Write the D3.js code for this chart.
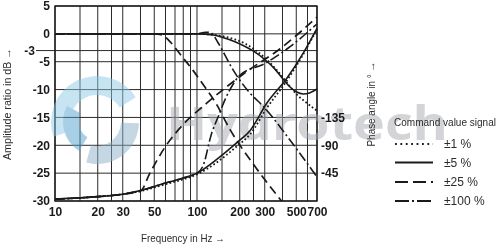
<!DOCTYPE html>
<html><head><meta charset="utf-8">
<script src="https://cdn.jsdelivr.net/npm/d3@7"></script>
<style>html,body{margin:0;padding:0;background:#fff;} svg{display:block;}</style>
</head><body>
<svg id="chart" width="500" height="248"></svg>
<script>
// ---------- data ----------
const freqTicks = [10, 20, 30, 50, 100, 200, 300, 500, 700];
const freqGrid = [10, 15, 20, 25, 30, 40, 50, 60, 70, 80, 90, 100, 150, 200, 250, 300, 400, 500, 600, 700];
const ampTicks = [5, 0, -5, -10, -15, -20, -25, -30];
const ampExtraTick = -3;
const phaseTicks = [-135, -90, -45];
const legendLabels = ["±1 %", "±5 %", "±25 %", "±100 %"];

// amplitude ratio (dB) vs frequency (Hz)
const magDotted  = [[10,0],[50,0],[100,0],[120,-0.1],[150,-0.4],[185,-1.0],[220,-1.8],[250,-2.7],[300,-4.3],[350,-6.0],[400,-7.7],[450,-9.4],[500,-10.8],[600,-12.5],[700,-13.8]];
const magSolid   = [[10,0],[50,0],[100,0],[130,-0.2],[150,-0.6],[185,-1.4],[220,-2.3],[250,-3.1],[300,-4.6],[350,-6.2],[400,-8.0],[450,-9.5],[500,-10.4],[560,-10.8],[620,-10.6],[700,-9.9]];
const magDashed  = [[10,0],[50,0],[57,-0.2],[65,-1.5],[78,-4.0],[94,-6.6],[114,-9.6],[134,-12.2],[171,-17.2],[263,-24.2],[394,-30]];
const magDashDot = [[10,0],[100,0],[115,0.3],[125,0.2],[140,-1.5],[155,-3.5],[175,-6.0],[195,-7.9],[230,-10.3],[300,-13.3],[450,-19.0],[700,-25.7]];

// phase angle (degrees) vs frequency (Hz)
const phaseDotted  = [[10,-3],[20,-7],[30,-11],[40,-16],[60,-27],[80,-35],[100,-43],[137,-62],[190,-88],[237,-108],[310,-150],[428,-194],[560,-237],[700,-278]];
const phaseSolid   = [[10,-3],[20,-7],[30,-11],[40,-17],[60,-29],[80,-37],[100,-45],[137,-67],[190,-94],[237,-114],[310,-158],[428,-198],[560,-239],[700,-279]];
const phaseDashed  = [[10,-3],[20,-7],[30,-11],[40,-16],[46.6,-45],[59.5,-87],[78,-121],[117,-158],[224,-209],[385,-246],[700,-297]];
const phaseDashDot = [[10,-3],[20,-7],[30,-11],[40,-17],[60,-29],[80,-37],[100,-45],[110,-56],[127,-110],[141,-136],[157,-163],[180,-189],[200,-203],[300,-222],[450,-249],[700,-286]];

// ---------- layout ----------
const svg = d3.select("#chart");
const L = 55, R = 317, T = 6, B = 201;
const x = d3.scaleLog().domain([10, 700]).range([L, R]);
const y = d3.scaleLinear().domain([-30, 5]).range([B, T]);
const yp = d3.scaleLinear().domain([0, -315]).range([B, T]);
const ink = "#1a1a1a";
const textFont = "'Liberation Sans', Arial, sans-serif";

// grid
const grid = svg.append("g");
grid.selectAll("line.v").data(freqGrid).join("line")
  .attr("x1", d => x(d)).attr("x2", d => x(d)).attr("y1", T).attr("y2", B)
  .attr("stroke", "#2a2a2a").attr("stroke-width", 1);
grid.selectAll("line.h").data(ampTicks.concat([ampExtraTick])).join("line")
  .attr("x1", L).attr("x2", R).attr("y1", d => y(d)).attr("y2", d => y(d))
  .attr("stroke", "#2a2a2a").attr("stroke-width", 1);
// -3 outer tick
grid.append("line").attr("x1", 36).attr("x2", L).attr("y1", y(ampExtraTick)).attr("y2", y(ampExtraTick))
  .attr("stroke", "#2a2a2a").attr("stroke-width", 1);
// border
svg.append("rect").attr("x", L).attr("y", T).attr("width", R - L).attr("height", B - T)
  .attr("fill", "none").attr("stroke", ink).attr("stroke-width", 1.4);

// watermark
const wm = svg.append("g").attr("opacity", 0.5);
const arc = d3.arc();
wm.append("path").attr("transform", "translate(97,122)")
  .attr("d", arc({innerRadius: 27, outerRadius: 46, startAngle: -1.9, endAngle: 1.0})).attr("fill", "#8ec8e6");
wm.append("path").attr("transform", "translate(97,122)")
  .attr("d", arc({innerRadius: 24, outerRadius: 42, startAngle: 1.6, endAngle: 3.4})).attr("fill", "#8aaec4");
wm.append("path").attr("transform", "translate(97,122)")
  .attr("d", arc({innerRadius: 18, outerRadius: 34, startAngle: 3.7, endAngle: 5.2})).attr("fill", "#4f9fcc");
wm.append("text").attr("x", 166).attr("y", 140).text("Hydrotech")
  .attr("font-family", "'Open Sans', sans-serif").attr("font-weight", 700).attr("font-size", 46)
  .attr("textLength", 282).attr("lengthAdjust", "spacingAndGlyphs").attr("fill", "#a4a9ae");

// curves
const lineMag = d3.line().x(d => x(d[0])).y(d => y(d[1])).curve(d3.curveMonotoneX);
const linePh = d3.line().x(d => x(d[0])).y(d => yp(d[1])).curve(d3.curveMonotoneX);
const styles = [
  {dash: "1.7,2.3", w: 1.8},
  {dash: null, w: 1.6},
  {dash: "9,5", w: 1.7},
  {dash: "10,3,2,3", w: 1.6}
];
const magSeries = [magDotted, magSolid, magDashed, magDashDot];
const phSeries = [phaseDotted, phaseSolid, phaseDashed, phaseDashDot];
const curves = svg.append("g").attr("fill", "none").attr("stroke", ink);
magSeries.forEach((s, i) => {
  curves.append("path").attr("d", lineMag(s)).attr("stroke-width", styles[i].w)
    .attr("stroke-dasharray", styles[i].dash);
});
phSeries.forEach((s, i) => {
  curves.append("path").attr("d", linePh(s)).attr("stroke-width", styles[i].w)
    .attr("stroke-dasharray", styles[i].dash);
});

// axes labels
const xAxis = d3.axisBottom(x).tickValues(freqTicks).tickFormat(d3.format("d")).tickSize(0).tickPadding(0);
const gx = svg.append("g").attr("transform", `translate(0,${B + 6})`).call(xAxis);
gx.select(".domain").remove();
gx.selectAll("text").attr("font-family", textFont).attr("font-weight", 700).attr("font-size", 12)
  .attr("fill", ink).attr("dy", "0.71em");

const yAxis = d3.axisLeft(y).tickValues(ampTicks).tickFormat(d => String(d)).tickSize(0).tickPadding(0);
const gy = svg.append("g").attr("transform", `translate(${L - 5},0)`).call(yAxis);
gy.select(".domain").remove();
gy.selectAll("text").attr("font-family", textFont).attr("font-weight", 700).attr("font-size", 12).attr("fill", ink);
svg.append("text").attr("x", 35).attr("y", y(ampExtraTick)).attr("dy", "0.35em").attr("text-anchor", "end")
  .attr("font-family", textFont).attr("font-weight", 700).attr("font-size", 12).attr("fill", ink).text(String(ampExtraTick));

const pAxis = d3.axisRight(yp).tickValues(phaseTicks).tickFormat(d => String(d)).tickSize(0).tickPadding(0);
const gp = svg.append("g").attr("transform", `translate(${R + 4},0)`).call(pAxis);
gp.select(".domain").remove();
gp.selectAll("text").attr("font-family", textFont).attr("font-weight", 700).attr("font-size", 12).attr("fill", ink);

// titles
const titleColor = "#2b2b2b";
svg.append("text").attr("transform", "translate(11,104) rotate(-90)").attr("text-anchor", "middle")
  .attr("font-family", textFont).attr("font-size", 11).attr("fill", titleColor)
  .attr("textLength", 112).attr("lengthAdjust", "spacingAndGlyphs").text("Amplitude ratio in dB \u2192");
svg.append("text").attr("transform", "translate(375,104) rotate(-90)").attr("text-anchor", "middle")
  .attr("font-family", textFont).attr("font-size", 11).attr("fill", titleColor)
  .attr("textLength", 85).attr("lengthAdjust", "spacingAndGlyphs").text("Phase angle in \u00b0 \u2192");
svg.append("text").attr("x", 183).attr("y", 242).attr("text-anchor", "middle")
  .attr("font-family", textFont).attr("font-size", 11).attr("fill", titleColor)
  .attr("textLength", 84).attr("lengthAdjust", "spacingAndGlyphs").text("Frequency in Hz \u2192");

// legend
svg.append("text").attr("x", 394).attr("y", 126).attr("font-family", textFont).attr("font-size", 10)
  .attr("fill", titleColor).attr("textLength", 102).attr("lengthAdjust", "spacingAndGlyphs").text("Command value signal");
const legendDash = ["1.8,3.6", null, "13,5", "14,3,2,3"];
const legendY = [144, 162.5, 182, 201];
legendLabels.forEach((lab, i) => {
  svg.append("line").attr("x1", 395).attr("x2", 433).attr("y1", legendY[i]).attr("y2", legendY[i])
    .attr("stroke", ink).attr("stroke-width", 1.8).attr("stroke-dasharray", legendDash[i]);
  svg.append("text").attr("x", 444).attr("y", legendY[i]).attr("dy", "0.35em")
    .attr("font-family", textFont).attr("font-size", 12).attr("fill", titleColor).text(lab);
});
</script>
</body></html>
